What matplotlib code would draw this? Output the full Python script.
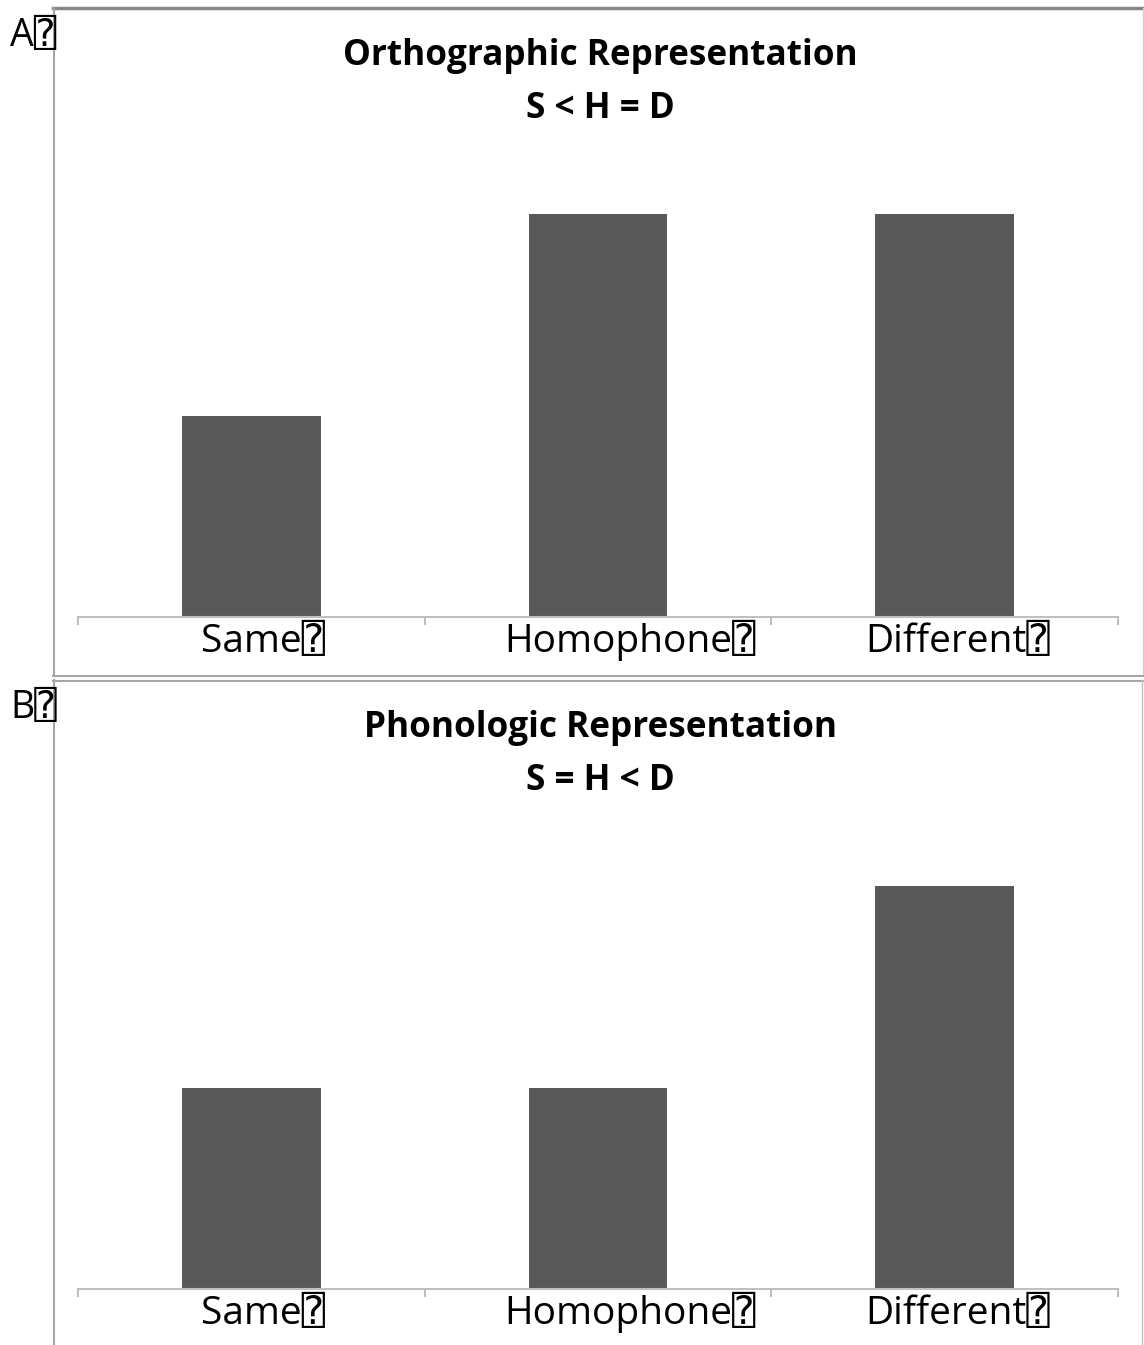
import numpy as np
import matplotlib.pyplot as plt
from matplotlib.lines import Line2D

# chart data
categories = ['Same', 'Homophone', 'Different']
ortho_values = [1.0, 2.0, 2.0]
phono_values = [1.0, 1.0, 2.0]
title_main = ['Orthographic Representation', 'Phonologic Representation']
title_sub = ['S < H = D', 'S = H < D']
panel_tags = ['A', 'B']
label_shift = [0.034, 0.092, 0.038]   # labels sit a bit right of the bar centres
BOX = '\u2370'

W, H = 1144, 1345
plt.rcParams['font.family'] = ['Open Sans', 'DejaVu Sans', 'DejaVu Sans Mono']

fig = plt.figure(figsize=(W / 100, H / 100), dpi=100)


def fx(px):
    return px / W


def fy(py):
    return 1 - py / H


def hline(x0, x1, y, color, lw):
    fig.add_artist(Line2D([fx(x0), fx(x1)], [fy(y), fy(y)], transform=fig.transFigure, color=color, lw=lw))


def vline(x, y0, y1, color, lw):
    fig.add_artist(Line2D([fx(x), fx(x)], [fy(y0), fy(y1)], transform=fig.transFigure, color=color, lw=lw))


# panel frames
hline(53, 1144, 8, '#858585', 2.5)
vline(53.5, 8, 676, '#a6a6a6', 1.5)
vline(1142.5, 8, 676, '#d0d0d0', 1.0)
hline(53, 1143, 676, '#a6a6a6', 1.5)
hline(53, 1143, 680.5, '#a6a6a6', 1.5)
vline(53.5, 680, 1345, '#a6a6a6', 1.5)
vline(1141.5, 680, 1345, '#c0c0c0', 1.0)


def draw_panel(base_y, values, i):
    # axes spans from baseline base_y up 467 px
    ax = fig.add_axes([fx(78), fy(base_y), fx(1118) - fx(78), 467 / H])
    x = np.arange(len(categories))
    ax.bar(x, values, width=0.4, color='#595959', zorder=2)
    ax.set_xlim(-0.5, 2.5)
    ax.set_ylim(0, 2.0 * 467 / 403)
    for s in ['top', 'left', 'right']:
        ax.spines[s].set_visible(False)
    ax.spines['bottom'].set_color('#bfbfbf')
    ax.spines['bottom'].set_linewidth(1.5)
    ax.set_yticks([])
    ax.set_xticks([-0.5, 0.5, 1.5, 2.5])
    ax.set_xticklabels([])
    ax.tick_params(axis='x', which='major', length=6, width=1.5, color='#bfbfbf')
    for xi, cat, sh in zip(x, categories, label_shift):
        ax.annotate(cat + BOX, xy=(xi + sh, 0), xycoords=('data', 'axes fraction'),
                    xytext=(0, -35 * 72 / 100), textcoords='offset points',
                    ha='center', va='baseline', fontsize=28, color='black',
                    annotation_clip=False)
    fig.text(fx(600), fy(base_y - 552), title_main[i], ha='center', va='baseline',
             fontsize=25.3, fontweight='bold')
    fig.text(fx(600), fy(base_y - 499), title_sub[i], ha='center', va='baseline',
             fontsize=25.3, fontweight='bold')
    fig.text(fx(10), fy(base_y - 571), panel_tags[i] + BOX, ha='left', va='baseline', fontsize=27)
    return ax


draw_panel(617, ortho_values, 0)
draw_panel(1289, phono_values, 1)

fig.savefig('out.png', dpi=100)
